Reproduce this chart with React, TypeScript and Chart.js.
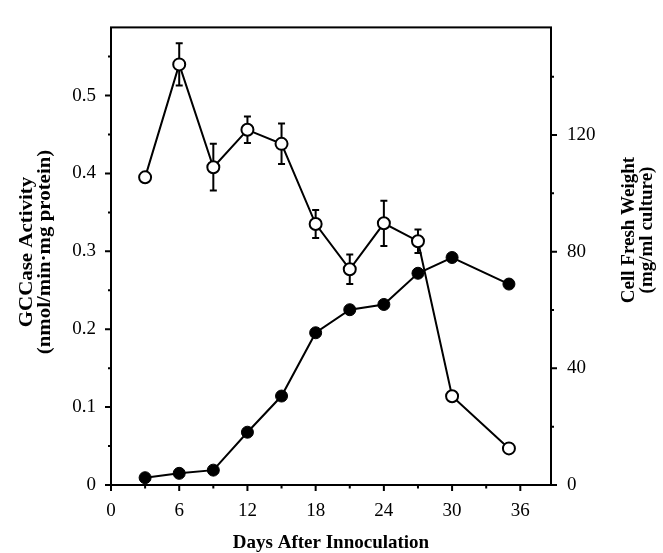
import React, { useEffect, useRef } from "react";
import { Chart, registerables } from "chart.js";

Chart.register(...registerables);

const days = [3, 6, 9, 12, 15, 18, 21, 24, 27, 30, 35];
const gccaseActivity = [0.395, 0.54, 0.408, 0.456, 0.438, 0.335, 0.277, 0.336, 0.313, 0.114, 0.047];
const gccaseError = [0.005, 0.027, 0.03, 0.017, 0.026, 0.018, 0.019, 0.029, 0.015, 0, 0];
const cellFreshWeight = [2.5, 4.0, 5.1, 18.1, 30.5, 52.2, 60.1, 61.9, 72.6, 78.0, 68.9];

const xTicks = [0, 6, 12, 18, 24, 30, 36];
const xMinorTicks = [3, 9, 15, 21, 27, 33];
const leftTicks = [0, 0.1, 0.2, 0.3, 0.4, 0.5];
const leftMinorTicks = [0.05, 0.15, 0.25, 0.35, 0.45, 0.55];
const rightTicks = [0, 40, 80, 120];
const rightMinorTicks = [20, 60, 100, 140];

const xTitle = "Days After Innoculation";
const leftTitle = ["GCCase Activity", "(nmol/min\u00b7mg protein)"];
const rightTitle = ["Cell Fresh Weight", "(mg/ml culture)"];

const FONT = "'Liberation Serif', 'Times New Roman', serif";

const customPlugin = {
  id: "customDecor",
  beforeDatasetsDraw(chart: any) {
    const ctx = chart.ctx;
    const xs = chart.scales.x;
    const ys = chart.scales.y;
    ctx.save();
    ctx.strokeStyle = "#000";
    ctx.lineWidth = 2;
    days.forEach((d, i) => {
      const e = gccaseError[i];
      if (!e) return;
      const x = xs.getPixelForValue(d);
      const yt = ys.getPixelForValue(gccaseActivity[i] + e);
      const yb = ys.getPixelForValue(gccaseActivity[i] - e);
      ctx.beginPath();
      ctx.moveTo(x, yt);
      ctx.lineTo(x, yb);
      ctx.moveTo(x - 3.5, yt);
      ctx.lineTo(x + 3.5, yt);
      ctx.moveTo(x - 3.5, yb);
      ctx.lineTo(x + 3.5, yb);
      ctx.stroke();
    });
    ctx.restore();
  },
  afterDraw(chart: any) {
    const ctx = chart.ctx;
    const { left, right, top, bottom } = chart.chartArea;
    const xs = chart.scales.x;
    const ys = chart.scales.y;
    const y2 = chart.scales.y2;
    ctx.save();
    ctx.strokeStyle = "#000";
    ctx.lineWidth = 2;
    ctx.strokeRect(left, top, right - left, bottom - top);
    ctx.beginPath();
    xTicks.forEach((v) => {
      const x = xs.getPixelForValue(v);
      ctx.moveTo(x, bottom);
      ctx.lineTo(x, bottom + 6);
    });
    xMinorTicks.forEach((v) => {
      const x = xs.getPixelForValue(v);
      ctx.moveTo(x, bottom);
      ctx.lineTo(x, bottom + 3.5);
    });
    leftTicks.forEach((v) => {
      const y = ys.getPixelForValue(v);
      ctx.moveTo(left, y);
      ctx.lineTo(left - 6, y);
    });
    leftMinorTicks.forEach((v) => {
      const y = ys.getPixelForValue(v);
      ctx.moveTo(left, y);
      ctx.lineTo(left - 3, y);
    });
    rightTicks.forEach((v) => {
      const y = y2.getPixelForValue(v);
      ctx.moveTo(right, y);
      ctx.lineTo(right + 6, y);
    });
    rightMinorTicks.forEach((v) => {
      const y = y2.getPixelForValue(v);
      ctx.moveTo(right, y);
      ctx.lineTo(right + 3, y);
    });
    ctx.stroke();

    ctx.fillStyle = "#000";
    ctx.font = `bold 19px ${FONT}`;
    ctx.textAlign = "center";
    ctx.textBaseline = "middle";
    ctx.fillText(xTitle, (left + right) / 2, 543);

    ctx.save();
    ctx.translate(27, 252);
    ctx.rotate(-Math.PI / 2);
    ctx.scale(1.1, 1);
    ctx.fillText(leftTitle[0], 0, 0);
    ctx.fillText(leftTitle[1], 0, 18);
    ctx.restore();

    ctx.save();
    ctx.translate(629, 230);
    ctx.rotate(-Math.PI / 2);
    ctx.fillText(rightTitle[0], 0, 0);
    ctx.fillText(rightTitle[1], 0, 18);
    ctx.restore();

    ctx.restore();
  },
};

export default function App() {
  const ref = useRef<HTMLCanvasElement | null>(null);

  useEffect(() => {
    document.body.style.margin = "0";
    const canvas = ref.current;
    if (!canvas) return;
    const tickFont = { family: FONT, size: 19 };
    const chart = new Chart(canvas, {
      type: "line",
      data: {
        datasets: [
          {
            label: "Cell Fresh Weight",
            data: days.map((d, i) => ({ x: d, y: cellFreshWeight[i] })),
            yAxisID: "y2",
            borderColor: "#000",
            backgroundColor: "#000",
            borderWidth: 2,
            pointRadius: 6,
            pointBackgroundColor: "#000",
            pointBorderColor: "#000",
            pointBorderWidth: 1,
            tension: 0,
          },
          {
            label: "GCCase Activity",
            data: days.map((d, i) => ({ x: d, y: gccaseActivity[i] })),
            yAxisID: "y",
            borderColor: "#000",
            backgroundColor: "#fff",
            borderWidth: 2,
            pointRadius: 6,
            pointBackgroundColor: "#fff",
            pointBorderColor: "#000",
            pointBorderWidth: 2,
            tension: 0,
          },
        ],
      },
      options: {
        responsive: false,
        animation: false,
        devicePixelRatio: 1,
        layout: { padding: { top: 22, left: 0, right: 0, bottom: 0 } },
        plugins: { legend: { display: false }, tooltip: { enabled: false } },
        scales: {
          x: {
            type: "linear",
            min: 0,
            max: 38.7,
            grid: { display: false, drawTicks: false },
            border: { display: false },
            ticks: { color: "#000", font: tickFont, padding: 15, maxRotation: 0 },
            afterBuildTicks: (s: any) => {
              s.ticks = xTicks.map((v) => ({ value: v }));
            },
            afterFit: (s: any) => {
              s.height = 68;
            },
          },
          y: {
            type: "linear",
            position: "left",
            min: 0,
            max: 0.5875,
            grid: { display: false, drawTicks: false },
            border: { display: false },
            ticks: {
              color: "#000",
              font: tickFont,
              padding: 15,
              callback: (v: any) => (v === 0 ? "0" : Number(v).toFixed(1)),
            },
            afterBuildTicks: (s: any) => {
              s.ticks = leftTicks.map((v) => ({ value: v }));
            },
            afterFit: (s: any) => {
              s.width = 111;
            },
          },
          y2: {
            type: "linear",
            position: "right",
            min: 0,
            max: 156.9,
            grid: { display: false, drawTicks: false },
            border: { display: false },
            ticks: { color: "#000", font: tickFont, padding: 16 },
            afterBuildTicks: (s: any) => {
              s.ticks = rightTicks.map((v) => ({ value: v }));
            },
            afterFit: (s: any) => {
              s.width = 112;
            },
          },
        },
      },
      plugins: [customPlugin],
    } as any);
    return () => chart.destroy();
  }, []);

  return <canvas ref={ref} width={663} height={553} style={{ display: "block" }} />;
}
